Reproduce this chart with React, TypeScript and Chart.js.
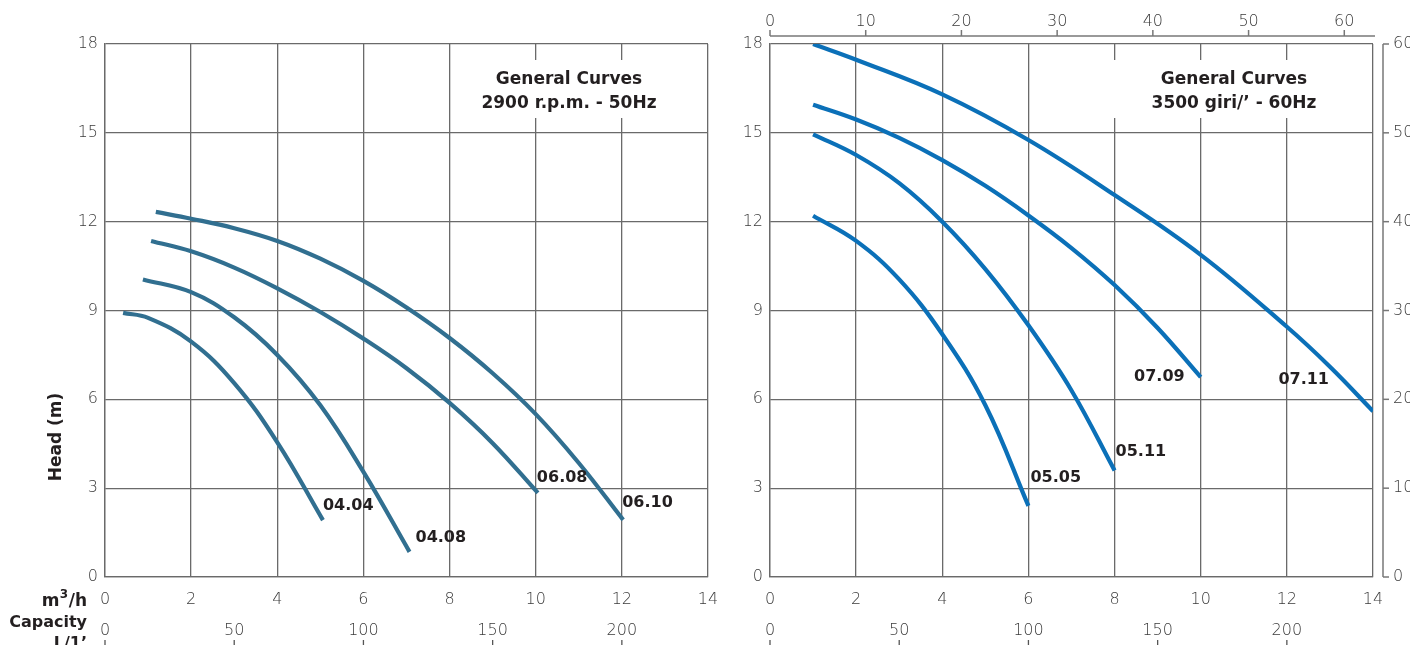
import React, { useEffect, useRef } from "react";
import { Chart, registerables } from "chart.js";

Chart.register(...registerables);

// ---------- data ----------
// 2900 r.p.m. - 50Hz curves: capacity m3/h, head m
const q0404 = [0.42, 1, 2, 3, 4, 5.06];
const h0404 = [8.92, 8.75, 7.95, 6.55, 4.55, 1.92];
const q0408 = [0.88, 2, 3, 4, 5, 6, 7.07];
const h0408 = [10.05, 9.62, 8.77, 7.5, 5.8, 3.55, 0.85];
const q0608 = [1.07, 2, 3, 4, 5, 6, 7, 8, 9, 10.05];
const h0608 = [11.35, 11.0, 10.45, 9.75, 8.95, 8.05, 7.05, 5.88, 4.52, 2.84];
const q0610 = [1.18, 2, 3, 4, 5, 6, 7, 8, 9, 10, 11, 12.03];
const h0610 = [12.33, 12.1, 11.78, 11.35, 10.75, 10.0, 9.1, 8.07, 6.88, 5.5, 3.85, 1.93];

// 3500 giri/' - 60Hz curves
const q0505 = [1, 2, 3, 4, 5, 6];
const h0505 = [12.2, 11.35, 10.05, 8.2, 5.8, 2.4];
const q0511 = [1, 2, 3, 4, 5, 6, 7, 8];
const h0511 = [14.95, 14.25, 13.3, 12.0, 10.4, 8.5, 6.3, 3.6];
const q0709 = [1, 2, 3, 4, 5, 6, 7, 8, 9, 10];
const h0709 = [15.95, 15.45, 14.83, 14.08, 13.21, 12.21, 11.11, 9.86, 8.41, 6.75];
const q0711 = [1, 2, 4, 6, 8, 10, 12, 13, 14];
const h0711 = [18.0, 17.47, 16.3, 14.76, 12.9, 10.88, 8.45, 7.1, 5.6];

// axes ranges / ticks
const flowMin = 0;
const flowMax = 14; // m3/h
const flowStep = 2;
const headMax = 18; // m
const headStep = 3;
const lpmMax = (flowMax * 1000) / 60; // L/1'
const lpmStep = 50;
const gpmMax = 63; // top axis of 60Hz panel
const gpmStep = 10;
const feetMax = 60; // right axis of 60Hz panel
const feetStep = 10;

const title50 = ["General Curves", "2900 r.p.m. - 50Hz"];
const title60 = ["General Curves", "3500 giri/\u2019 - 60Hz"];

// ---------- styles ----------
const COLOR50 = "#316f90";
const COLOR60 = "#0b70b8";
const GRID = "#6a6a6a";
const TICK_TXT = "#3a3a3a";
const BOLD_TXT = "#231f20";
const TICK_FONT = { family: "'DejaVu Sans'", size: 16, weight: "200" as any };

type Curve = {
  name: string;
  q: number[];
  h: number[];
  dx: number;
  dy: number;
  align: CanvasTextAlign;
};

const curves50: Curve[] = [
  { name: "04.04", q: q0404, h: h0404, dx: 0, dy: -14, align: "left" },
  { name: "04.08", q: q0408, h: h0408, dx: 6, dy: -14, align: "left" },
  { name: "06.08", q: q0608, h: h0608, dx: -1, dy: -15, align: "left" },
  { name: "06.10", q: q0610, h: h0610, dx: -1, dy: -17, align: "left" },
];
const curves60: Curve[] = [
  { name: "05.05", q: q0505, h: h0505, dx: 2, dy: -28, align: "left" },
  { name: "05.11", q: q0511, h: h0511, dx: 1, dy: -19, align: "left" },
  { name: "07.09", q: q0709, h: h0709, dx: -16, dy: 0, align: "right" },
  { name: "07.11", q: q0711, h: h0711, dx: -44, dy: -31, align: "right" },
];

function makeDatasets(list: Curve[], color: string) {
  return list.map((c) => ({
    label: c.name,
    data: c.q.map((x, i) => ({ x, y: c.h[i] })),
    borderColor: color,
    borderWidth: 4.2,
    pointRadius: 0,
    showLine: true,
    fill: false,
    tension: 0.4,
    borderCapStyle: "butt" as const,
    xAxisID: "x",
    yAxisID: "y",
  }));
}

function fixWidth(w: number) {
  return (s: any) => {
    s.width = w;
    s.paddingTop = 0;
    s.paddingBottom = 0;
  };
}
function fixHeight(h: number) {
  return (s: any) => {
    s.height = h;
    s.paddingLeft = 0;
    s.paddingRight = 0;
  };
}

function baseScales(leftWidth: number) {
  return {
    x: {
      type: "linear",
      position: "bottom",
      weight: 0,
      min: flowMin,
      max: flowMax,
      ticks: { stepSize: flowStep, color: TICK_TXT, font: TICK_FONT, padding: 13, maxRotation: 0 },
      grid: { color: GRID, lineWidth: 1.3, drawTicks: false },
      border: { color: GRID, width: 1.3 },
      afterFit: fixHeight(35),
    },
    xl: {
      type: "linear",
      position: "bottom",
      weight: 1,
      min: 0,
      max: lpmMax,
      ticks: { stepSize: lpmStep, color: TICK_TXT, font: TICK_FONT, padding: 9, includeBounds: false, maxRotation: 0 },
      grid: { drawOnChartArea: false, drawTicks: false },
      border: { display: false },
      afterFit: fixHeight(33),
    },
    y: {
      type: "linear",
      position: "left",
      min: 0,
      max: headMax,
      ticks: { stepSize: headStep, color: TICK_TXT, font: TICK_FONT, padding: 7 },
      grid: { color: GRID, lineWidth: 1.3, drawTicks: false },
      border: { color: GRID, width: 1.3 },
      afterFit: fixWidth(leftWidth),
    },
  } as any;
}

function drawTitleBox(ctx: CanvasRenderingContext2D, area: any, lines: string[], boxLeftOffset: number) {
  const right = area.right - 1.5;
  const left = area.right - boxLeftOffset;
  const top = area.top + 16;
  const bottom = area.top + 74;
  ctx.save();
  ctx.fillStyle = "#ffffff";
  ctx.fillRect(left, top, right - left, bottom - top);
  ctx.fillStyle = BOLD_TXT;
  ctx.font = "bold 17px 'DejaVu Sans'";
  ctx.textAlign = "center";
  ctx.textBaseline = "middle";
  const cx = area.right - 139;
  ctx.fillText(lines[0], cx, area.top + 36);
  ctx.fillText(lines[1], cx, area.top + 60);
  ctx.restore();
}

function drawCurveLabels(chart: any, list: Curve[]) {
  const { ctx } = chart;
  const xs = chart.scales.x;
  const ys = chart.scales.y;
  ctx.save();
  ctx.fillStyle = BOLD_TXT;
  ctx.font = "bold 16px 'DejaVu Sans'";
  ctx.textBaseline = "middle";
  list.forEach((c) => {
    const n = c.q.length - 1;
    const px = xs.getPixelForValue(c.q[n]);
    const py = ys.getPixelForValue(c.h[n]);
    ctx.textAlign = c.align;
    ctx.fillText(c.name, px + c.dx, py + c.dy);
  });
  ctx.restore();
}

function drawLpmTicks(chart: any) {
  const { ctx } = chart;
  const s = chart.scales.xl;
  ctx.save();
  ctx.strokeStyle = "#555";
  ctx.lineWidth = 1.3;
  s.ticks.forEach((t: any) => {
    const px = s.getPixelForValue(t.value);
    ctx.beginPath();
    ctx.moveTo(px, 640);
    ctx.lineTo(px, 646);
    ctx.stroke();
  });
  ctx.restore();
}

const plugin50 = {
  id: "deco50",
  beforeDatasetsDraw(chart: any) {
    drawTitleBox(chart.ctx, chart.chartArea, title50, 257);
  },
  afterDraw(chart: any) {
    const { ctx } = chart;
    drawCurveLabels(chart, curves50);
    drawLpmTicks(chart);
    ctx.save();
    ctx.fillStyle = BOLD_TXT;
    // Head (m)
    ctx.save();
    ctx.translate(57, 437);
    ctx.rotate(-Math.PI / 2);
    ctx.font = "bold 17px 'DejaVu Sans'";
    ctx.textAlign = "center";
    ctx.textBaseline = "middle";
    ctx.fillText("Head (m)", 0, 0);
    ctx.restore();
    // m3/h with superscript
    const rightX = 87;
    ctx.textBaseline = "alphabetic";
    ctx.textAlign = "left";
    const big = "bold 17px 'DejaVu Sans'";
    const sup = "bold 12px 'DejaVu Sans'";
    ctx.font = big;
    const wm = ctx.measureText("m").width;
    const wh = ctx.measureText("/h").width;
    ctx.font = sup;
    const w3 = ctx.measureText("3").width;
    const x0 = rightX - (wm + w3 + wh + 1);
    ctx.font = big;
    ctx.fillText("m", x0, 606);
    ctx.font = sup;
    ctx.fillText("3", x0 + wm + 0.5, 598);
    ctx.font = big;
    ctx.fillText("/h", x0 + wm + w3 + 1, 606);
    ctx.textAlign = "right";
    ctx.font = "bold 16px 'DejaVu Sans'";
    ctx.fillText("Capacity", rightX, 627);
    ctx.fillText("L/1\u2019", rightX, 648);
    ctx.restore();
  },
};

const plugin60 = {
  id: "deco60",
  beforeDatasetsDraw(chart: any) {
    drawTitleBox(chart.ctx, chart.chartArea, title60, 273);
  },
  afterDraw(chart: any) {
    const { ctx, chartArea } = chart;
    drawCurveLabels(chart, curves60);
    drawLpmTicks(chart);
    ctx.save();
    ctx.strokeStyle = "#777";
    ctx.lineWidth = 1.5;
    // top (gpm) axis line and ticks
    const xg = chart.scales.xg;
    const lineY = chartArea.top - 8;
    ctx.beginPath();
    ctx.moveTo(chartArea.left, lineY);
    ctx.lineTo(chartArea.right + 2, lineY);
    ctx.stroke();
    xg.ticks.forEach((t: any) => {
      const px = xg.getPixelForValue(t.value);
      ctx.beginPath();
      ctx.moveTo(px, lineY);
      ctx.lineTo(px, lineY - 6);
      ctx.stroke();
    });
    // right (feet) axis bracket
    const yf = chart.scales.yf;
    const lineX = chartArea.right + 10;
    ctx.beginPath();
    ctx.moveTo(lineX, chartArea.top);
    ctx.lineTo(lineX, chartArea.bottom);
    ctx.stroke();
    yf.ticks.forEach((t: any) => {
      const py = yf.getPixelForValue(t.value);
      ctx.beginPath();
      ctx.moveTo(lineX, py);
      ctx.lineTo(lineX + 6, py);
      ctx.stroke();
    });
    ctx.restore();
  },
};

function config50(): any {
  return {
    type: "scatter",
    data: { datasets: makeDatasets(curves50, COLOR50) },
    options: {
      responsive: false,
      maintainAspectRatio: false,
      animation: false,
      layout: { padding: { left: 0, top: 44, right: 12, bottom: 0 } },
      plugins: { legend: { display: false }, tooltip: { enabled: false }, title: { display: false } },
      scales: baseScales(105),
    },
    plugins: [plugin50],
  };
}

function config60(): any {
  const scales = baseScales(55);
  scales.xg = {
    type: "linear",
    position: "top",
    min: 0,
    max: gpmMax,
    ticks: { stepSize: gpmStep, color: TICK_TXT, font: TICK_FONT, padding: 13, includeBounds: false, maxRotation: 0 },
    grid: { drawOnChartArea: false, drawTicks: false },
    border: { display: false },
    afterFit: fixHeight(44),
  };
  scales.yf = {
    type: "linear",
    position: "right",
    min: 0,
    max: feetMax,
    ticks: { stepSize: feetStep, color: TICK_TXT, font: TICK_FONT, padding: 20 },
    grid: { drawOnChartArea: false, drawTicks: false },
    border: { display: false },
    afterFit: fixWidth(37),
  };
  return {
    type: "scatter",
    data: { datasets: makeDatasets(curves60, COLOR60) },
    options: {
      responsive: false,
      maintainAspectRatio: false,
      animation: false,
      layout: { padding: { left: 0, top: 0, right: 0, bottom: 0 } },
      plugins: { legend: { display: false }, tooltip: { enabled: false }, title: { display: false } },
      scales,
    },
    plugins: [plugin60],
  };
}

export default function App() {
  const leftRef = useRef<HTMLCanvasElement>(null);
  const rightRef = useRef<HTMLCanvasElement>(null);

  useEffect(() => {
    const c1 = new Chart(leftRef.current as HTMLCanvasElement, config50());
    const c2 = new Chart(rightRef.current as HTMLCanvasElement, config60());
    return () => {
      c1.destroy();
      c2.destroy();
    };
  }, []);

  return (
    <div
      style={{
        position: "fixed",
        left: 0,
        top: 0,
        width: 1410,
        height: 645,
        overflow: "hidden",
        background: "#ffffff",
      }}
    >
      <canvas
        ref={leftRef}
        width={720}
        height={645}
        style={{ position: "absolute", left: 0, top: 0, width: 720, height: 645 }}
      />
      <canvas
        ref={rightRef}
        width={695}
        height={645}
        style={{ position: "absolute", left: 715, top: 0, width: 695, height: 645 }}
      />
    </div>
  );
}
